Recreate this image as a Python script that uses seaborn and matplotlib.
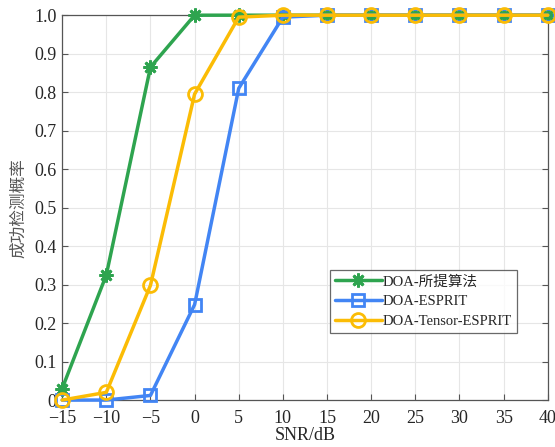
import matplotlib
matplotlib.use("Agg")
import matplotlib.pyplot as plt
import seaborn as sns
import pandas as pd

snr = [-15, -10, -5, 0, 5, 10, 15, 20, 25, 30, 35, 40]
p_proposed = [0.03, 0.325, 0.865, 1.0, 1.0, 1.0, 1.0, 1.0, 1.0, 1.0, 1.0, 1.0]
p_esprit = [0.0, 0.0, 0.012, 0.248, 0.81, 0.995, 1.0, 1.0, 1.0, 1.0, 1.0, 1.0]
p_tensor = [0.0, 0.02, 0.298, 0.795, 0.995, 1.0, 1.0, 1.0, 1.0, 1.0, 1.0, 1.0]
labels = ["DOA-所提算法", "DOA-ESPRIT", "DOA-Tensor-ESPRIT"]
xticks = [-15, -10, -5, 0, 5, 10, 15, 20, 25, 30, 35, 40]
yticks = [0, 0.1, 0.2, 0.3, 0.4, 0.5, 0.6, 0.7, 0.8, 0.9, 1.0]
ytick_labels = ["0", "0.1", "0.2", "0.3", "0.4", "0.5", "0.6", "0.7", "0.8", "0.9", "1.0"]

sns.set_style("white")
plt.rcParams['font.family'] = ['Liberation Serif', 'Noto Sans CJK SC']
plt.rcParams['axes.unicode_minus'] = True

df = pd.DataFrame({
    "snr": snr * 3,
    "p": p_proposed + p_esprit + p_tensor,
    "method": [labels[0]] * len(snr) + [labels[1]] * len(snr) + [labels[2]] * len(snr),
})

fig = plt.figure(figsize=(5.55, 4.47), dpi=100)
ax = fig.add_axes([0.112, 0.105, 0.875, 0.861])

colors = ["#2ea44f", "#4285f4", "#fbbc05"]
markers = [(8, 2, 0), "s", "o"]
msizes = [10, 9, 10]
for lab, c, m, ms in zip(labels, colors, markers, msizes):
    sub = df[df["method"] == lab]
    sns.lineplot(data=sub, x="snr", y="p", ax=ax, color=c, marker=m,
                 markersize=ms, markerfacecolor="none" if m != (8, 2, 0) else c,
                 markeredgecolor=c, markeredgewidth=2.0, linewidth=2.5,
                 label=lab, legend=False, clip_on=False, zorder=3)

ax.set_xlim(-15, 40)
ax.set_ylim(0, 1.0)
ax.set_xticks(xticks)
ax.set_xticklabels([str(t).replace("-", "\u2212") for t in xticks])
ax.set_yticks(yticks)
ax.set_yticklabels(ytick_labels)
ax.grid(True, color="#e6e6e6", linewidth=0.8)
ax.tick_params(direction="in", length=4, labelsize=13, color="#555555",
               top=False, right=True, left=True, bottom=True)
ax.tick_params(axis="x", pad=7)
ax.tick_params(axis="y", pad=4)
for s in ax.spines.values():
    s.set_color("#555555")
    s.set_linewidth(0.9)
ax.set_xlabel("SNR/dB", fontsize=13, labelpad=0)
ax.set_ylabel("成功检测概率", fontsize=12, color="#555555", labelpad=5)

leg = ax.legend(loc="upper left", bbox_to_anchor=(0.551, 0.338), fontsize=10.5,
                frameon=True, fancybox=False, edgecolor="#444444",
                handlelength=3.2, borderpad=0.35, labelspacing=0.45,
                handletextpad=0.1, borderaxespad=0)
leg.get_frame().set_linewidth(0.9)
for t in leg.get_texts():
    t.set_family(['Liberation Serif', 'Noto Sans CJK SC'])

fig.savefig("out.png", dpi=100)
